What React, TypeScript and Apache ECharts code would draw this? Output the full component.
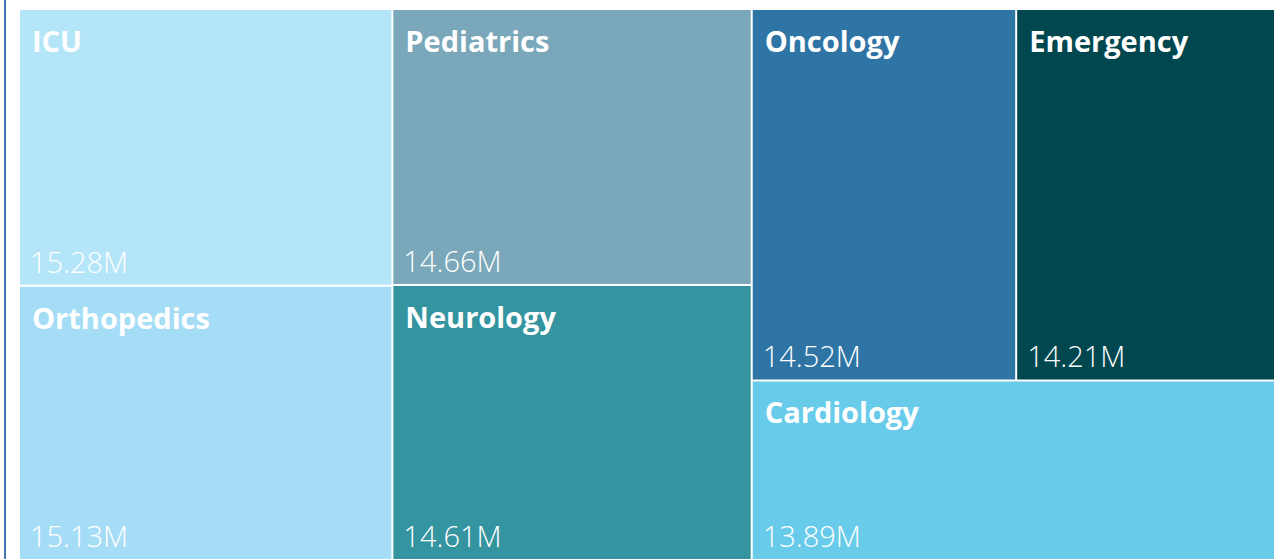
import React, { useEffect, useRef } from "react";
import * as echarts from "echarts";

const departments = ["ICU", "Orthopedics", "Pediatrics", "Neurology", "Oncology", "Emergency", "Cardiology"];
const valuesM = [15.28, 15.13, 14.66, 14.61, 14.52, 14.21, 13.89];
const colors = ["#b4e5f8", "#a6ddf6", "#7aa7b9", "#3494a0", "#2e74a4", "#01474f", "#69cbea"];

const FONT = "'Open Sans', 'Noto Sans', 'DejaVu Sans', sans-serif";

export default function App() {
  const ref = useRef<HTMLDivElement>(null);
  useEffect(() => {
    if (!ref.current) return;
    const chart = echarts.init(ref.current, null, { renderer: "svg" });
    const data = departments.map((name, i) => ({
      name,
      value: valuesM[i],
      itemStyle: { color: colors[i] },
    }));
    const dataTransparent = departments.map((name, i) => ({
      name,
      value: valuesM[i],
      itemStyle: { color: "rgba(0,0,0,0)" },
    }));
    const common = {
      type: "treemap",
      left: 20,
      top: 10,
      width: 1254,
      height: 549,
      roam: false,
      nodeClick: false,
      breadcrumb: { show: false },
      animation: false,
      squareRatio: 0.5 * (1 + Math.sqrt(5)),
      levels: [
        {
          itemStyle: { gapWidth: 2, borderWidth: 0, borderColor: "#ffffff" },
        },
      ],
    };
    chart.setOption({
      animation: false,
      backgroundColor: "#ffffff",
      graphic: [
        {
          type: "rect",
          shape: { x: 4, y: 0, width: 2, height: 559 },
          style: { fill: "#3d7ab5" },
          silent: true,
        },
      ],
      series: [
        {
          ...common,
          data,
          itemStyle: { borderWidth: 0 },
          label: {
            show: true,
            position: "insideTopLeft",
            distance: 7,
            offset: [0, 4],
            color: "#ffffff",
            fontFamily: FONT,
            fontWeight: "bold",
            fontSize: 29,
            formatter: (p: any) => p.name,
          },
        },
        {
          ...common,
          data: dataTransparent,
          silent: true,
          itemStyle: { borderWidth: 0, color: "rgba(0,0,0,0)" },
          label: {
            show: true,
            position: "insideBottomLeft",
            distance: 5,
            offset: [0, 1],
            color: "#ffffff",
            fontFamily: FONT,
            fontWeight: 300,
            fontSize: 29,
            formatter: (p: any) => `${p.value.toFixed(2)}M`,
          },
        },
      ],
    });
    return () => chart.dispose();
  }, []);
  return (
    <div
      ref={ref}
      style={{ position: "fixed", left: 0, top: 0, width: 1284, height: 559 }}
    />
  );
}
